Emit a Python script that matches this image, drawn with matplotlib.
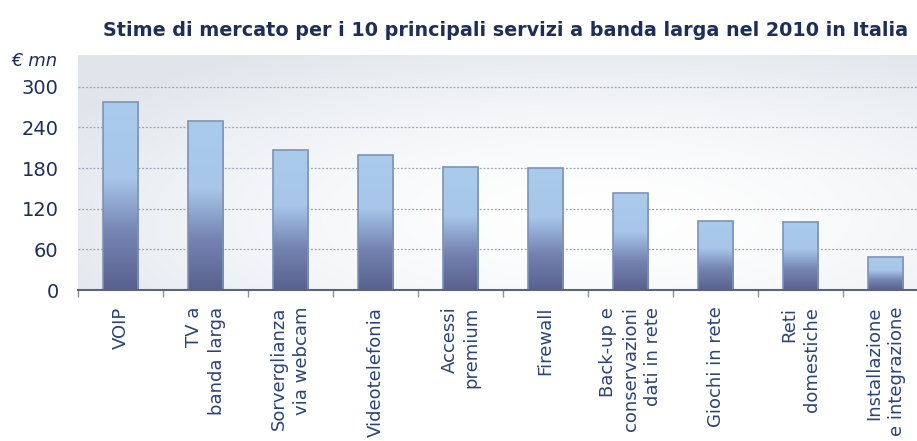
import numpy as np
import matplotlib
matplotlib.use("Agg")
import matplotlib.pyplot as plt
from matplotlib.colors import LinearSegmentedColormap

# Stime di mercato (milioni di euro) per servizio
servizi = ["VOIP", "TV a\nbanda larga", "Sorverglianza\nvia webcam", "Videotelefonia",
           "Accessi\npremium", "Firewall", "Back-up e\nconservazioni\ndati in rete",
           "Giochi in rete", "Reti\ndomestiche", "Installazione\ne integrazione"]
valori = [277, 249, 207, 200, 182, 180, 143, 102, 100, 48]
yticks = [0, 60, 120, 180, 240, 300]

navy = "#1c2f5a"
label_col = "#2a4478"

fig = plt.figure(figsize=(9.17, 4.41), dpi=100)
ax = fig.add_axes([0.085, 0.3424, 0.915, 0.5329])

x = np.arange(len(servizi))

# sfondo sfumato dell'area del grafico
gx, gy = np.meshgrid(np.linspace(0, 1, 300), np.linspace(0, 1, 200))
d = np.sqrt(((gx - 0.62) / 0.75) ** 2 + ((gy - 0.30) / 0.85) ** 2)
d = np.clip(d, 0, 1) ** 1.6
c0 = np.array([1.0, 1.0, 1.0])
c1 = np.array([0xe0, 0xe5, 0xec]) / 255
bg = c0 + (c1 - c0) * d[..., None]
ax.imshow(bg, extent=[0, 1, 0, 1], transform=ax.transAxes, origin="lower",
          aspect="auto", zorder=0)

# griglia tratteggiata
for t in yticks[1:]:
    ax.axhline(t, color="#9aa3b3", lw=0.9, ls=(0, (1.5, 1.5)), zorder=1)

# barre con sfumatura verticale
cmap = LinearSegmentedColormap.from_list(
    "barre", [(0.0, "#59618e"), (0.3, "#7583b2"), (0.6, "#a7c6e9"), (1.0, "#aacbec")])
bars = ax.bar(x, valori, width=0.42, color="none", edgecolor="#7d93b5", lw=1.2, zorder=3)
grad = np.linspace(0, 1, 256).reshape(-1, 1)
for b in bars:
    x0, y0 = b.get_x(), b.get_y()
    im = ax.imshow(grad, cmap=cmap, extent=[x0, x0 + b.get_width(), y0, y0 + b.get_height()],
                   origin="lower", aspect="auto", zorder=2)
    im.set_clip_path(b)

ax.set_xlim(-0.5, 9.37)
ax.set_ylim(0, 347)

for s in ["top", "right", "left"]:
    ax.spines[s].set_visible(False)
ax.spines["bottom"].set_color("#5c6478")
ax.spines["bottom"].set_linewidth(1.5)
ax.spines["bottom"].set_zorder(4)

ax.set_yticks(yticks)
ax.set_yticklabels([str(t) for t in yticks], fontsize=14, color=navy)
ax.tick_params(axis="y", length=0, pad=14)

ax.set_xticks(x)
ax.set_xticklabels(servizi, rotation=90, fontsize=13, color=label_col,
                   va="top", ha="center", multialignment="right", linespacing=1.3)
ax.tick_params(axis="x", which="major", length=0, pad=12)
ax.set_xticks(np.arange(-0.5, 9.5, 1.0), minor=True)
ax.tick_params(axis="x", which="minor", length=5, width=1, color="#8a93a6", direction="out")

fig.text(0.012, 0.862, "€ mn", fontsize=13, style="italic", color=navy, va="center")
fig.text(0.551, 0.93, "Stime di mercato per i 10 principali servizi a banda larga nel 2010 in Italia",
         fontsize=13.8, fontweight="bold", color=navy, ha="center", va="center")

fig.savefig("out.png", dpi=100)
